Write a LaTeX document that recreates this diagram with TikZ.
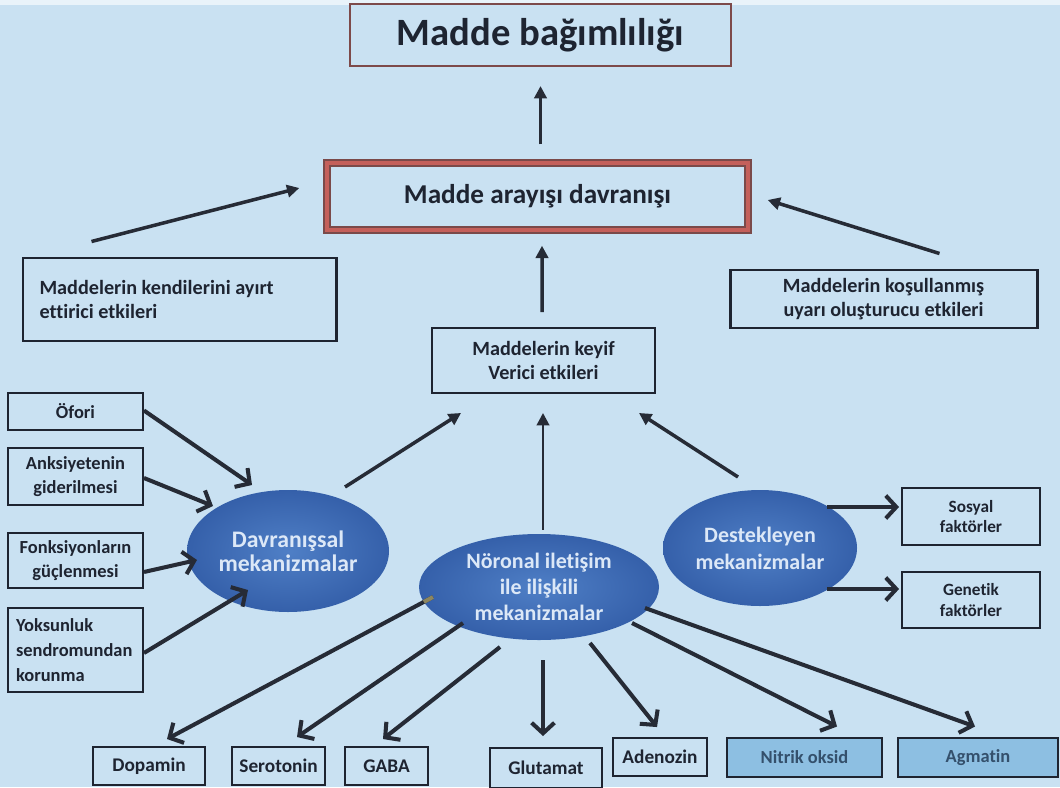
\documentclass[tikz,border=0pt]{standalone}
\usepackage{fontspec}
\setmainfont{Carlito}[Ligatures=NoCommon]
\usetikzlibrary{arrows.meta,calc,shapes.geometric}
\definecolor{bg}{HTML}{C9E1F2}
\definecolor{ink}{HTML}{1E2431}
\definecolor{arrc}{HTML}{262B36}
\definecolor{bagc}{HTML}{7D4A4A}
\definecolor{redc}{HTML}{C4605B}
\definecolor{redd}{HTML}{7A4A4A}
\definecolor{ellin}{HTML}{4F7FC6}
\definecolor{ellout}{HTML}{3560AA}
\definecolor{elltext}{HTML}{DCE8F7}
\definecolor{midblue}{HTML}{8DBFE2}
\definecolor{midtext}{HTML}{34506C}
\definecolor{tanc}{HTML}{8C8660}
\tikzset{
  sz/.style 2 args={minimum width=#1*0.02cm, minimum height=#2*0.02cm},
  box/.style={draw=ink, line width=1.1pt, inner sep=0pt, align=center, text=ink},
  thickbox/.style={box, line width=1.7pt},
  fs/.style 2 args={font=\bfseries\fontsize{#1}{#2}\selectfont},
  ell/.style={ellipse, inner sep=0pt, shade, inner color=ellin, outer color=ellout,
              text=elltext, align=center},
  fillbox/.style={box, fill=midblue, text=midtext},
  upar/.style={draw=arrc, line width=2pt, -{Triangle[length=7pt,width=7pt]}},
  lowar/.style={draw=arrc, line width=2.3pt, -{Straight Barb[length=6pt,width=13pt]}}
}
\begin{document}
\begin{tikzpicture}[x=0.02cm,y=-0.02cm]
\fill[bg] (0,0) rectangle (1060,787);
\fill[white!60!bg] (0,0) rectangle (1060,5);
\useasboundingbox (0,0) rectangle (1060,787);

% top boxes
\node[box, sz={381}{62}, draw=bagc, line width=1.2pt, fs={22}{26}] (bag) at (540.5,35) {Madde bağımlılığı};
\node[box, sz={421}{67}, draw=redd, double=redc, line width=0.8pt, double distance=2.6pt, fs={15.5}{18}] (aray) at (537.5,196.5) {Madde arayışı davranışı};
\node[thickbox, sz={313}{83}, text width=5.6cm, align=flush left, fs={11.5}{14}] (kend) at (179.5,299.5) {Maddelerin kendilerini ayırt\\ettirici etkileri};
\node[thickbox, sz={307}{58}, fs={11.5}{14}] (kosul) at (883.5,299) {Maddelerin koşullanmış\\uyarı oluşturucu etkileri};
\node[box, sz={223}{65}, fs={11.5}{14}] (keyif) at (543.5,360.5) {Maddelerin keyif\\Verici etkileri};

% left boxes
\node[box, sz={135}{37}, fs={10.5}{14}] (ofori) at (75.5,411.5) {Öfori};
\node[box, sz={135}{57}, fs={10.5}{14}] (anks) at (75.5,476.5) {Anksiyetenin\\giderilmesi};
\node[box, sz={135}{55}, fs={10.5}{14}] (fonk) at (75.5,560.5) {Fonksiyonların\\güçlenmesi};
\node[box, sz={135}{84}, text width=2.38cm, align=flush left, fs={10.5}{14}] (yoks) at (75.5,650) {Yoksunluk\\sendromundan\\korunma};

% ellipses
\node[ell, sz={202}{122}, fs={13.5}{13.5}] (dav) at (288,551) {Davranışsal\\mekanizmalar};
\node[ell, sz={240}{106}, fs={12.5}{15}] (nor) at (539,587) {Nöronal iletişim\\ile ilişkili\\mekanizmalar};
\node[ell, sz={194}{116}, fs={12.5}{15.5}] (des) at (760,548) {Destekleyen\\mekanizmalar};

% right boxes
\node[box, sz={138}{57}, fs={9.8}{11.5}] (sos) at (971,516.5) {Sosyal\\faktörler};
\node[box, sz={138}{56}, fs={9.8}{11.5}] (gen) at (971,600) {Genetik\\faktörler};

% bottom boxes
\node[box, sz={112}{38}, fs={11}{13}] (dop) at (149,766) {Dopamin};
\node[box, sz={93}{38}, fs={11}{13}] (ser) at (278.5,766) {Serotonin};
\node[box, sz={83}{38}, fs={11}{13}] (gaba) at (386.5,766) {GABA};
\node[box, sz={112}{40}, fs={11}{13}] (glu) at (546,768) {Glutamat};
\node[box, sz={94}{38}, fs={11}{13}] (ade) at (660,757) {Adenozin};
\node[fillbox, sz={155}{39}, fs={10.5}{13}] (nit) at (804.5,757.5) {Nitrik oksid};
\node[fillbox, sz={160}{39}, fs={10.5}{13}] (agm) at (978,757.5) {Agmatin};

% upper arrows
\draw[upar] ($(aray.north)+(3,-18)$) -- ($(bag.south)+(0,19)$);
\draw[upar] ($(kend.north west)+(70,-15)$) -- ($(aray.west)+(-27,-8.5)$);
\draw[upar] ($(kosul.north east)+(-99,-15)$) -- ($(aray.east)+(19,3.5)$);
\draw[upar] ($(keyif.north)+(-1.5,-15)$) -- ($(aray.south)+(4.5,15)$);
\draw[upar] ($(dav)+(57,-64)$) -- ($(keyif.south west)+(30,19)$);
\draw[upar, line width=1.5pt] ($(nor.north)+(4,-4)$) -- ($(keyif.south)+(-0.5,19)$);
\draw[upar] ($(des)+(-22,-71)$) -- ($(keyif.south east)+(-17,19)$);

% arrows into Davranissal
\draw[lowar] ($(ofori.east)+(0,-1)$) -- ($(dav)+(-36,-66)$);
\draw[lowar] ($(anks.east)+(0,1.5)$) -- ($(dav)+(-75,-45)$);
\draw[lowar] ($(fonk.east)+(0,11.5)$) -- ($(dav)+(-91,9)$);
\draw[lowar] ($(yoks.east)+(0,3)$) -- ($(dav)+(-40,39)$);

% Destekleyen to factors
\draw[lowar] ($(des)+(67,-41)$) -- ($(sos.west)+(-2,-9.5)$);
\draw[lowar] ($(des)+(67,41)$) -- ($(gen.west)+(-2,-11)$);

% Noronal to bottom
\draw[lowar] ($(nor)+(-106,10)$) -- ($(dop.north)+(18,-7)$);
\begin{scope}
\clip (nor.center) ellipse [x radius=120, y radius=53];
\draw[tanc, line width=2.3pt] ($(nor)+(-106,10)$) -- ($(dop.north)+(18,-7)$);
\end{scope}
\draw[lowar] ($(nor)+(-76,36)$) -- ($(ser.north)+(18.5,-9)$);
\draw[lowar] ($(nor)+(-39,60)$) -- ($(gaba.north)+(-3.5,-7)$);
\draw[lowar] ($(nor)+(4,73)$) -- ($(glu.north)+(-3,-11)$);
\draw[lowar] ($(nor)+(51,56)$) -- ($(ade.north)+(-3,-10)$);
\draw[lowar] ($(nor)+(93,36)$) -- ($(nit.north)+(32.5,-10.5)$);
\draw[lowar] ($(nor)+(106,21)$) -- ($(agm.north)+(-3,-10.5)$);
\end{tikzpicture}
\end{document}
